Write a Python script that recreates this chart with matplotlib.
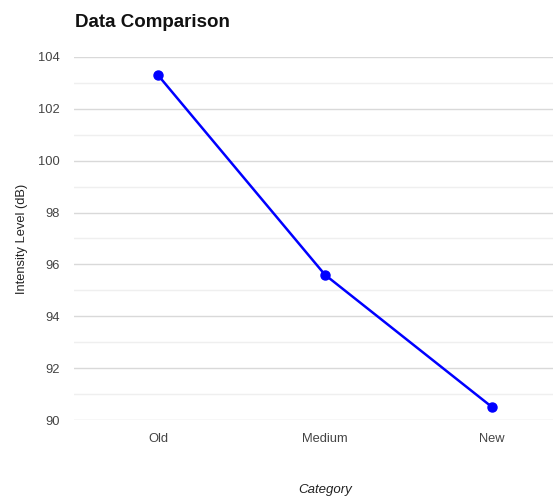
import matplotlib.pyplot as plt

# Intensity readings per equipment age
categories = ['Old', 'Medium', 'New']
intensity = [103.3, 95.6, 90.5]
y_ticks = [90, 92, 94, 96, 98, 100, 102, 104]
y_minor = [91, 93, 95, 97, 99, 101, 103]

plt.rcParams['font.family'] = ['Liberation Sans', 'DejaVu Sans']

fig = plt.figure(figsize=(5.53, 4.98), dpi=100)
ax = fig.add_axes([0.1347, 0.1566, 0.906, 0.729])

x = list(range(len(categories)))
ax.plot(x, intensity, color='#0000ff', linewidth=1.8, marker='o', markersize=6.5, zorder=3)

ax.set_xlim(-0.5, 2.5)
ax.set_ylim(90, 104)
ax.set_xticks(x)
ax.set_xticklabels(categories)
ax.set_yticks(y_ticks)
ax.set_yticks(y_minor, minor=True)

for v in y_ticks:
    ax.axhline(v, color='#d9d9d9', linewidth=1, zorder=1)
for v in y_minor:
    ax.axhline(v, color='#efefef', linewidth=1, zorder=1)

for s in ax.spines.values():
    s.set_visible(False)
ax.tick_params(axis='both', which='both', length=0, labelsize=9.3, labelcolor='#444444')
ax.tick_params(axis='x', pad=9)
ax.tick_params(axis='y', pad=10.5)

ax.set_xlabel('Category', fontsize=9.5, style='italic', color='#222222')
ax.xaxis.set_label_coords(0.5, -0.177)
ax.set_ylabel('Intensity Level (dB)', fontsize=9.3, color='#222222')
ax.yaxis.set_label_coords(-0.093, 0.5)
fig.text(0.1357, 0.945, 'Data Comparison', fontsize=13.5, fontweight='bold', color='#111111')

fig.savefig('out.png', dpi=100)
